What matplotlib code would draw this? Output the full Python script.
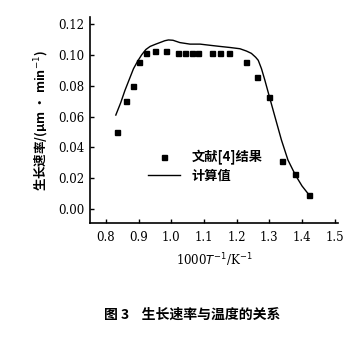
import matplotlib
matplotlib.use('Agg')
import matplotlib.pyplot as plt

plt.rcParams['font.family'] = ['Noto Sans CJK SC', 'DejaVu Sans']

# calculated curve (1000/T, growth rate)
calc_x = [0.830, 0.845, 0.858, 0.871, 0.884, 0.897, 0.909, 0.922, 0.935, 0.950,
          0.965, 0.980, 0.991, 1.005, 1.026, 1.057, 1.088, 1.120, 1.149, 1.180,
          1.210, 1.230, 1.245, 1.258, 1.266, 1.276, 1.286, 1.300, 1.317, 1.337,
          1.357, 1.380, 1.400, 1.422]
calc_y = [0.061, 0.069, 0.077, 0.084, 0.091, 0.096, 0.100, 0.1035, 0.1055, 0.1068,
          0.108, 0.1092, 0.1097, 0.1095, 0.108, 0.107, 0.107, 0.1062, 0.1055, 0.1048,
          0.104, 0.1025, 0.1010, 0.0985, 0.0965, 0.091, 0.0838, 0.073, 0.060, 0.0448,
          0.0318, 0.022, 0.015, 0.0091]

# literature [4] points
ref_x = [0.833, 0.861, 0.882, 0.902, 0.922, 0.951, 0.985, 1.021, 1.042, 1.062,
         1.083, 1.124, 1.150, 1.177, 1.230, 1.262, 1.300, 1.340, 1.380, 1.422]
ref_y = [0.050, 0.070, 0.080, 0.0955, 0.1015, 0.1025, 0.1025, 0.1015, 0.1015, 0.1015,
         0.1015, 0.1015, 0.1015, 0.1015, 0.0955, 0.0855, 0.0727, 0.0312, 0.0227, 0.0090]

xticks = [0.8, 0.9, 1.0, 1.1, 1.2, 1.3, 1.4, 1.5]
yticks = [0.00, 0.02, 0.04, 0.06, 0.08, 0.10, 0.12]

fig = plt.figure(figsize=(3.58, 3.57), dpi=100)
ax = fig.add_axes([0.2514, 0.3754, 0.6926, 0.5766])

ax.plot(ref_x, ref_y, 's', color='black', markersize=3.6, label='文献[4]结果')
ax.plot(calc_x, calc_y, '-', color='black', linewidth=1.0, label='计算值')

ax.set_xlim(0.751, 1.51)
ax.set_ylim(-0.009, 0.1245)
ax.set_xticks(xticks)
ax.set_yticks(yticks)
ax.set_xticklabels([f'{v:.1f}' for v in xticks], family='DejaVu Serif', fontsize=8.5)
ax.set_yticklabels([f'{v:.2f}' for v in yticks], family='DejaVu Serif', fontsize=8.5)
ax.tick_params(direction='in', length=3, width=1)
ax.tick_params(axis='y', pad=4)
ax.tick_params(axis='x', pad=6)
for s in ['top', 'right']:
    ax.spines[s].set_visible(False)
for s in ['left', 'bottom']:
    ax.spines[s].set_linewidth(1.2)

ax.set_ylabel('生长速率/(μm · min$^{-1}$)', fontsize=9, fontweight='bold', labelpad=5)
ax.set_xlabel('1000$T^{-1}$/K$^{-1}$', family='DejaVu Serif', fontsize=8.5, labelpad=5)

ax.legend(loc='upper left', bbox_to_anchor=(148 / 358, 1 - 150 / 357),
          bbox_transform=fig.transFigure, frameon=False, borderpad=0,
          borderaxespad=0, handlelength=2.4, handletextpad=0.9, labelspacing=0.3,
          prop={'family': ['Noto Sans CJK SC', 'DejaVu Sans'], 'size': 9.5, 'weight': 'bold'})

fig.text(192 / 358, 1 - 315 / 357, '图 3    生长速率与温度的关系', ha='center', va='center',
         fontsize=10, fontweight='bold')

fig.savefig('out.png', dpi=100)
